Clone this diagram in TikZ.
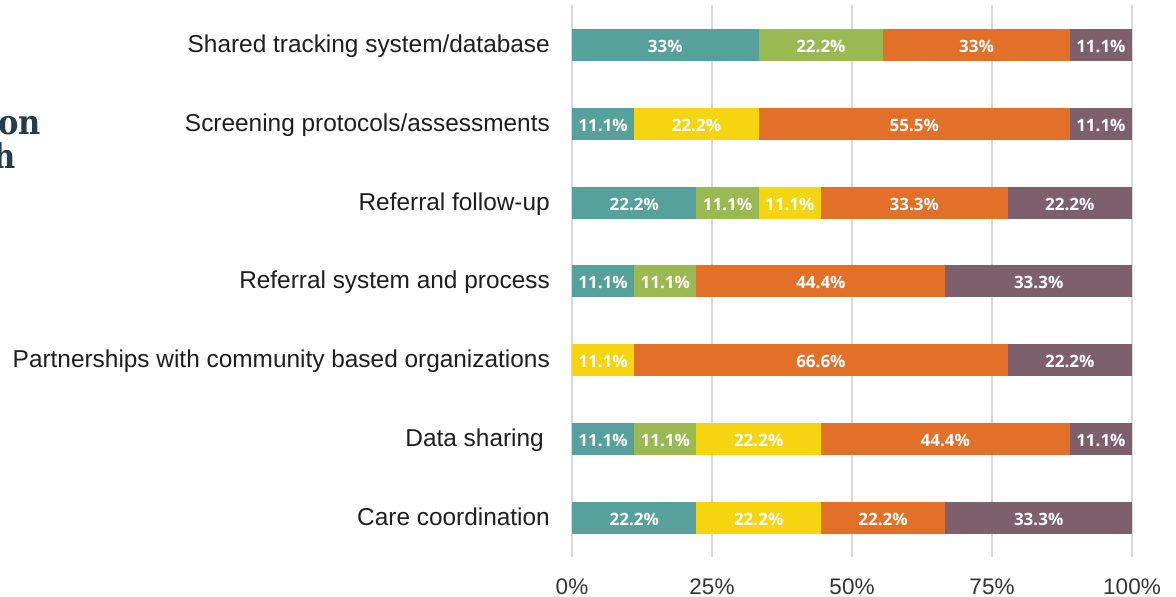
\documentclass[tikz,border=0pt]{standalone}
\usepackage{fontspec}
\setmainfont{Liberation Sans}
\newfontfamily\barfont{Open Sans}
\newfontfamily\slabfont{DejaVu Serif Condensed}
\definecolor{cteal}{HTML}{56A19B}
\definecolor{cgreen}{HTML}{9BB952}
\definecolor{cyellow}{HTML}{F5D410}
\definecolor{corange}{HTML}{E27028}
\definecolor{cpurple}{HTML}{7E5F6E}
\definecolor{cgrid}{HTML}{D9D9D9}
\definecolor{ctext}{HTML}{1E1E1E}
\definecolor{ctick}{HTML}{333333}
\definecolor{cslab}{HTML}{1F3E4E}
\newcommand\barseg[6]{%
  \path[fill=#4] (572+#2*62.2222,#1-16) rectangle (572+#3*62.2222,#1+16);
  \node[barlabel] (#6) at (572+#2*31.1111+#3*31.1111,#1+7.5) {#5};}
\begin{document}
\begin{tikzpicture}[x=1pt,y=-1pt,
  grid/.style={draw=cgrid,line width=1.2pt},
  rowlabel/.style={anchor=base east,inner sep=0pt,font=\fontsize{24.4}{28}\selectfont,text=ctext},
  ticklabel/.style={anchor=base,inner sep=0pt,font=\fontsize{22.5}{26}\selectfont,text=ctick},
  barlabel/.style={anchor=base,inner sep=0pt,font=\barfont\bfseries\fontsize{17}{20}\selectfont,text=white},
  slab/.style={anchor=base east,inner sep=0pt,font=\slabfont\bfseries\fontsize{34}{40}\selectfont,text=cslab}]
\useasboundingbox (0,0) rectangle (1176,597);
% fragments of a title at the left edge
\node[slab] (frag1) at (41,134) {on};
\node[slab] (frag2) at (16,168) {h};
% gridlines
\foreach \i in {0,...,4} \draw[grid] (572+140*\i,5) -- (572+140*\i,557);
% tick labels
\node[ticklabel] (t0) at (572,594) {0\%};
\node[ticklabel] (t25) at (712,594) {25\%};
\node[ticklabel] (t50) at (852,594) {50\%};
\node[ticklabel] (t75) at (992,594) {75\%};
\node[ticklabel] (t100) at (1132,594) {100\%};
% row labels
\node[rowlabel] (r1) at (550,52.5) {Shared tracking system/database};
\node[rowlabel] (r2) at (550,131.25) {Screening protocols/assessments};
\node[rowlabel] (r3) at (550,210) {Referral follow-up};
\node[rowlabel] (r4) at (550,288.75) {Referral system and process};
\node[rowlabel] (r5) at (550,367.5) {Partnerships with community based organizations};
\node[rowlabel] (r6) at (544,446.25) {Data sharing};
\node[rowlabel] (r7) at (550,525) {Care coordination};
% row 1
\barseg{45}{0}{3}{cteal}{33\%}{a1}
\barseg{45}{3}{5}{cgreen}{22.2\%}{a2}
\barseg{45}{5}{8}{corange}{33\%}{a3}
\barseg{45}{8}{9}{cpurple}{11.1\%}{a4}
% row 2
\barseg{123.75}{0}{1}{cteal}{11.1\%}{b1}
\barseg{123.75}{1}{3}{cyellow}{22.2\%}{b2}
\barseg{123.75}{3}{8}{corange}{55.5\%}{b3}
\barseg{123.75}{8}{9}{cpurple}{11.1\%}{b4}
% row 3
\barseg{202.5}{0}{2}{cteal}{22.2\%}{c1}
\barseg{202.5}{2}{3}{cgreen}{11.1\%}{c2}
\barseg{202.5}{3}{4}{cyellow}{11.1\%}{c3}
\barseg{202.5}{4}{7}{corange}{33.3\%}{c4}
\barseg{202.5}{7}{9}{cpurple}{22.2\%}{c5}
% row 4
\barseg{281.25}{0}{1}{cteal}{11.1\%}{d1}
\barseg{281.25}{1}{2}{cgreen}{11.1\%}{d2}
\barseg{281.25}{2}{6}{corange}{44.4\%}{d3}
\barseg{281.25}{6}{9}{cpurple}{33.3\%}{d4}
% row 5
\barseg{360}{0}{1}{cyellow}{11.1\%}{e1}
\barseg{360}{1}{7}{corange}{66.6\%}{e2}
\barseg{360}{7}{9}{cpurple}{22.2\%}{e3}
% row 6
\barseg{438.75}{0}{1}{cteal}{11.1\%}{f1}
\barseg{438.75}{1}{2}{cgreen}{11.1\%}{f2}
\barseg{438.75}{2}{4}{cyellow}{22.2\%}{f3}
\barseg{438.75}{4}{8}{corange}{44.4\%}{f4}
\barseg{438.75}{8}{9}{cpurple}{11.1\%}{f5}
% row 7
\barseg{517.5}{0}{2}{cteal}{22.2\%}{g1}
\barseg{517.5}{2}{4}{cyellow}{22.2\%}{g2}
\barseg{517.5}{4}{6}{corange}{22.2\%}{g3}
\barseg{517.5}{6}{9}{cpurple}{33.3\%}{g4}
\end{tikzpicture}
\end{document}
